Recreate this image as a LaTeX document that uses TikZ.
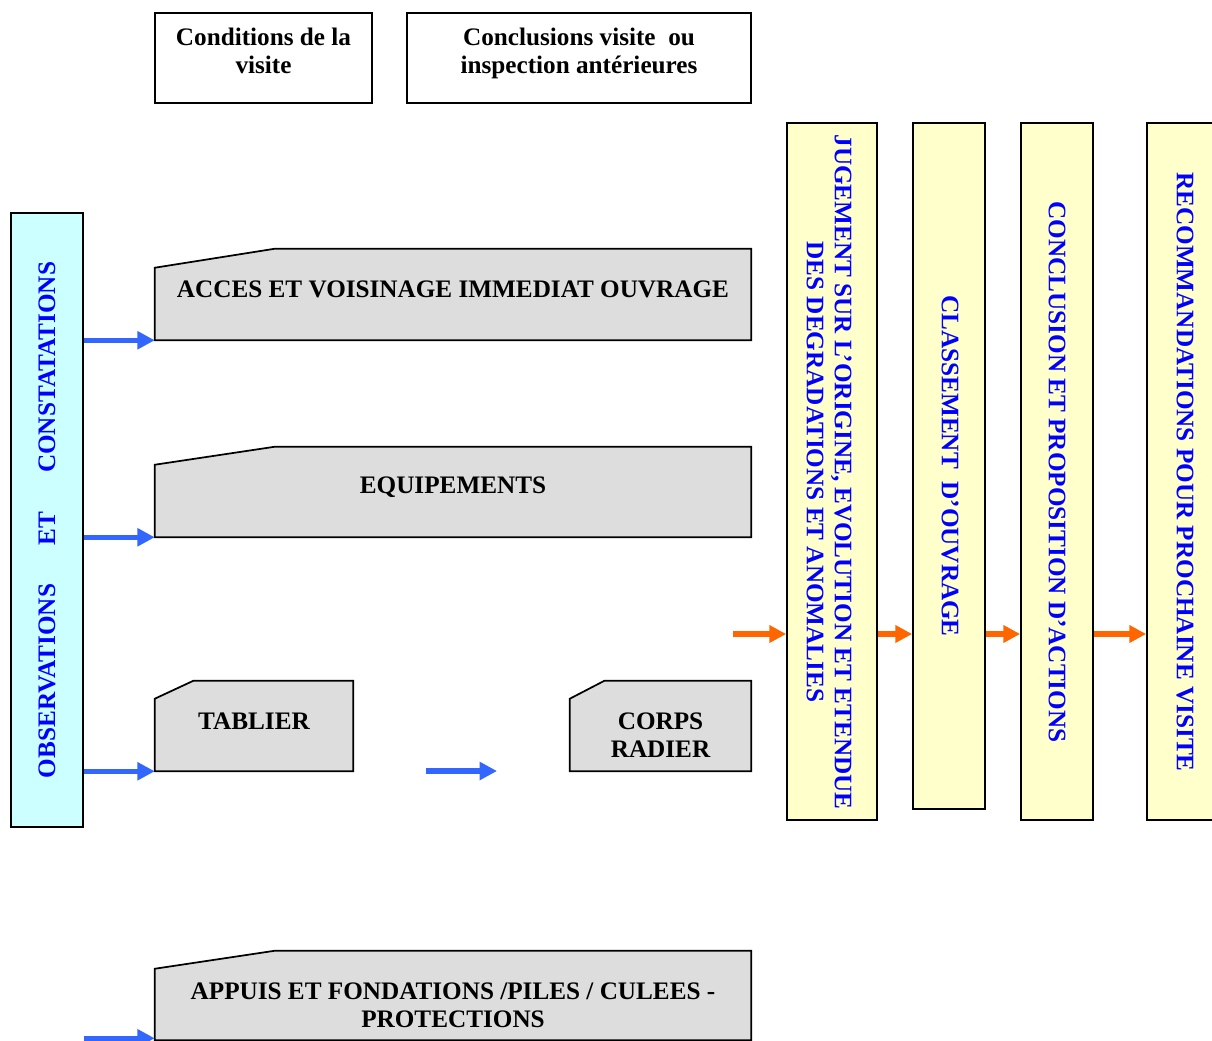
\documentclass[tikz,border=0pt]{standalone}
\usepackage{fontspec}
\setmainfont{Liberation Serif}
\usetikzlibrary{arrows.meta,calc}
\definecolor{txtblue}{HTML}{0000FF}
\definecolor{arrblue}{HTML}{3366FF}
\definecolor{arrorange}{HTML}{FF6600}
\definecolor{cyanfill}{HTML}{CCFFFF}
\definecolor{yelfill}{HTML}{FFFFCC}
\definecolor{grayfill}{HTML}{DDDDDD}
\tikzset{
  lbl/.style={font=\fontsize{18.9}{21}\selectfont\bfseries, align=center, inner sep=0pt},
  plain/.style={draw=black, line width=1.3pt, fill=white, inner sep=0pt},
  vbox/.style={draw=black, line width=1.3pt, fill=yelfill, inner sep=0pt, minimum width=54pt},
  shellbox/.style={inner sep=0pt, draw=none},
  chamf/.style={draw=black, line width=1.3pt, fill=grayfill},
  barr/.style={draw=arrblue, line width=3.8pt, -{Triangle[length=13pt,width=13pt]}},
  oarr/.style={draw=arrorange, line width=3.8pt, -{Triangle[length=12.5pt,width=12.5pt]}},
}
\begin{document}
\begin{tikzpicture}[x=0.75pt,y=-0.75pt]
\clip (0,0) rectangle (1212,1040);
\useasboundingbox (0,0) rectangle (1212,1040);
\fill[white] (0,0) rectangle (1212,1040);

% top boxes
\node[plain, minimum width=162.75pt, minimum height=67.5pt] (cond) at (263.5,58) {};
\node[lbl, anchor=north] (condt) at (263.5,28) {Conditions de la\\visite};
\node[plain, minimum width=258pt, minimum height=67.5pt] (concl) at (579,58) {};
\node[lbl, anchor=north] (conclt) at (579,28) {Conclusions visite\ \ ou\\inspection antérieures};

% left vertical box
\node[draw=black, line width=1.3pt, fill=cyanfill, inner sep=0pt, minimum width=54pt, minimum height=460.5pt] (obs) at (47,520) {};
\node[lbl, text=txtblue, rotate=90] (obst) at (47,520) {OBSERVATIONS\hspace{29pt}ET\hspace{29pt}CONSTATATIONS};

% chamfered grey boxes
\node[shellbox, minimum width=447pt, minimum height=68.25pt] (acc) at (453,294.5) {};
\draw[chamf] ([yshift=-14.25pt]acc.north west) -- ([xshift=90pt]acc.north west) -- (acc.north east) -- (acc.south east) -- (acc.south west) -- cycle;
\node[lbl] (acct) at (453,289) {ACCES ET VOISINAGE IMMEDIAT OUVRAGE};

\node[shellbox, minimum width=447pt, minimum height=67.5pt] (equ) at (453,492) {};
\draw[chamf] ([yshift=-13.5pt]equ.north west) -- ([xshift=90pt]equ.north west) -- (equ.north east) -- (equ.south east) -- (equ.south west) -- cycle;
\node[lbl] (equt) at (453,487) {EQUIPEMENTS};

\node[shellbox, minimum width=148.5pt, minimum height=67.5pt] (tab) at (254,726) {};
\draw[chamf] ([yshift=-13.5pt]tab.north west) -- ([xshift=29pt]tab.north west) -- (tab.north east) -- (tab.south east) -- (tab.south west) -- cycle;
\node[lbl] (tabt) at (254,721) {TABLIER};

\node[shellbox, minimum width=135.75pt, minimum height=67.5pt] (corps) at (660.5,726) {};
\draw[chamf] ([yshift=-13.5pt]corps.north west) -- ([xshift=26pt]corps.north west) -- (corps.north east) -- (corps.south east) -- (corps.south west) -- cycle;
\node[lbl] (corpst) at (660.5,735) {CORPS\\RADIER};

\node[shellbox, minimum width=447pt, minimum height=66.75pt] (app) at (453,995.5) {};
\draw[chamf] ([yshift=-13.5pt]app.north west) -- ([xshift=90pt]app.north west) -- (app.north east) -- (app.south east) -- (app.south west) -- cycle;
\node[lbl] (appt) at (453,1005) {APPUIS ET FONDATIONS /PILES / CULEES -\\PROTECTIONS};

% blue arrows
\draw[barr] (obs.east |- acc.south west) -- (acc.south west);
\draw[barr] (obs.east |- equ.south west) -- (equ.south west);
\draw[barr] (obs.east |- tab.south west) -- (tab.south west);
\draw[barr] ([yshift=1.5pt]obs.east |- app.south west) -- ([yshift=1.5pt]app.south west);
\coordinate (mida) at (426,771);
\coordinate (midb) at (497,771);
\draw[barr] (mida) -- (midb);

% right vertical boxes
\node[vbox, minimum width=67.5pt, minimum height=522.75pt] (jug) at (832,471.5) {};
\node[lbl, text=txtblue, rotate=-90] (jugt) at (829,472) {JUGEMENT SUR L’ORIGINE, EVOLUTION ET ETENDUE\\DES DEGRADATIONS ET ANOMALIES};
\node[vbox, minimum height=514.5pt] (cls) at (949,466) {};
\node[lbl, text=txtblue, rotate=-90] (clst) at (950,466) {CLASSEMENT\ \ D’OUVRAGE};
\node[vbox, minimum height=522.75pt] (cp) at (1057,471.5) {};
\node[lbl, text=txtblue, rotate=-90] (cpt) at (1057,472) {CONCLUSION ET PROPOSITION D'ACTIONS};
\node[vbox, minimum height=522.75pt] (rec) at (1183,471.5) {};
\node[lbl, text=txtblue, rotate=-90] (rect) at (1185,472) {RECOMMANDATIONS POUR PROCHAINE VISITE};

% orange arrows
\coordinate (ostart) at (733,634);
\draw[oarr] (ostart) -- (jug.west |- ostart);
\draw[oarr] (jug.east |- ostart) -- (cls.west |- ostart);
\draw[oarr] (cls.east |- ostart) -- (cp.west |- ostart);
\draw[oarr] (cp.east |- ostart) -- (rec.west |- ostart);
\end{tikzpicture}
\end{document}
